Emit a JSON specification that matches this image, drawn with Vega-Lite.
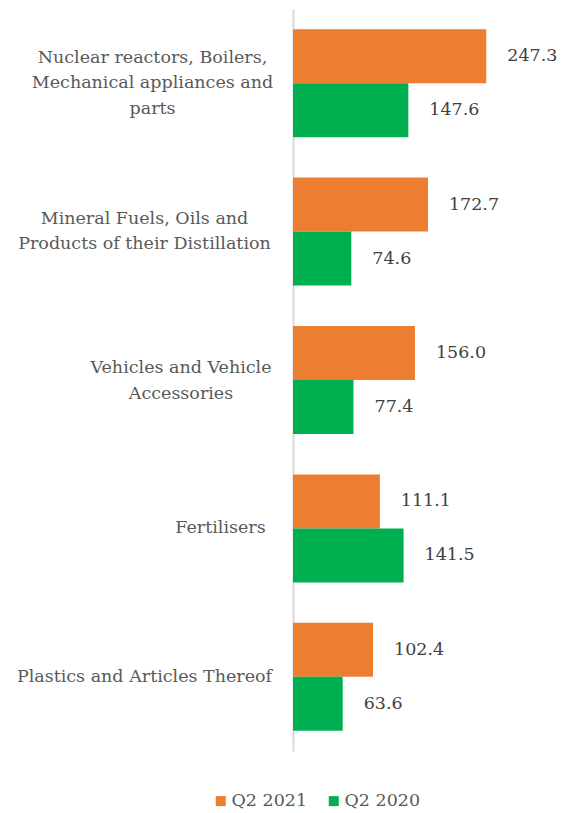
{
  "$schema": "https://vega.github.io/schema/vega-lite/v6.json",
  "autosize": "none",
  "width": 254,
  "height": 742,
  "padding": {"left": 293, "top": 9, "right": 16, "bottom": 62},
  "background": "white",
  "config": {
    "view": {"stroke": null},
    "font": "DejaVu Serif"
  },
  "data": {
    "values": [
      {"category": "Nuclear reactors, Boilers, Mechanical appliances and parts", "series": "Q2 2021", "value": 247.3},
      {"category": "Nuclear reactors, Boilers, Mechanical appliances and parts", "series": "Q2 2020", "value": 147.6},
      {"category": "Mineral Fuels, Oils and Products of their Distillation", "series": "Q2 2021", "value": 172.7},
      {"category": "Mineral Fuels, Oils and Products of their Distillation", "series": "Q2 2020", "value": 74.6},
      {"category": "Vehicles and Vehicle Accessories", "series": "Q2 2021", "value": 156.0},
      {"category": "Vehicles and Vehicle Accessories", "series": "Q2 2020", "value": 77.4},
      {"category": "Fertilisers", "series": "Q2 2021", "value": 111.1},
      {"category": "Fertilisers", "series": "Q2 2020", "value": 141.5},
      {"category": "Plastics and Articles Thereof", "series": "Q2 2021", "value": 102.4},
      {"category": "Plastics and Articles Thereof", "series": "Q2 2020", "value": 63.6}
    ]
  },
  "encoding": {
    "y": {
      "field": "category",
      "type": "nominal",
      "sort": null,
      "scale": {"paddingInner": 0.272, "paddingOuter": 0.136},
      "axis": {
        "title": null,
        "ticks": false,
        "grid": false,
        "domainColor": "#D9D9D9",
        "domainWidth": 2,
        "labelFont": "DejaVu Serif",
        "labelFontSize": 17.5,
        "labelColor": "#595959",
        "labelAlign": "center",
        "labelLineHeight": 25.5,
        "labelLimit": 400,
        "labelOffset": {
          "condition": [
            {"test": "datum.value == 'Nuclear reactors, Boilers, Mechanical appliances and parts'", "value": -25.5},
            {"test": "datum.value == 'Mineral Fuels, Oils and Products of their Distillation'", "value": -13},
            {"test": "datum.value == 'Vehicles and Vehicle Accessories'", "value": -12}
          ],
          "value": 0
        },
        "labelPadding": {
          "condition": [
            {"test": "datum.value == 'Nuclear reactors, Boilers, Mechanical appliances and parts'", "value": 141},
            {"test": "datum.value == 'Mineral Fuels, Oils and Products of their Distillation'", "value": 149},
            {"test": "datum.value == 'Vehicles and Vehicle Accessories'", "value": 112.5},
            {"test": "datum.value == 'Fertilisers'", "value": 73}
          ],
          "value": 149
        },
        "labelExpr": "datum.value == 'Nuclear reactors, Boilers, Mechanical appliances and parts' ? ['Nuclear reactors, Boilers,', 'Mechanical appliances and', 'parts'] : datum.value == 'Mineral Fuels, Oils and Products of their Distillation' ? ['Mineral Fuels, Oils and', 'Products of their Distillation'] : datum.value == 'Vehicles and Vehicle Accessories' ? ['Vehicles and Vehicle', 'Accessories'] : datum.value"
      }
    },
    "yOffset": {
      "field": "series",
      "type": "nominal",
      "sort": ["Q2 2021", "Q2 2020"],
      "scale": {"paddingInner": 0, "paddingOuter": 0}
    },
    "x": {
      "field": "value",
      "type": "quantitative",
      "scale": {"domain": [0, 325]},
      "axis": null
    }
  },
  "layer": [
    {
      "mark": {"type": "bar"},
      "encoding": {
        "color": {
          "field": "series",
          "type": "nominal",
          "sort": ["Q2 2021", "Q2 2020"],
          "scale": {"domain": ["Q2 2021", "Q2 2020"], "range": ["#ED7D31", "#00B050"]},
          "legend": {
            "title": null,
            "orient": "none",
            "direction": "horizontal",
            "legendX": -81,
            "legendY": 783,
            "symbolType": "square",
            "symbolSize": 100,
            "symbolStrokeWidth": 0,
            "symbolOpacity": 1,
            "labelFont": "DejaVu Serif",
            "labelFontSize": 17.5,
            "labelColor": "#595959",
            "labelOffset": 2,
            "columnPadding": 17
          }
        }
      }
    },
    {
      "mark": {"type": "text", "align": "left", "baseline": "middle", "dx": 21, "font": "DejaVu Serif", "fontSize": 17.5, "color": "#404040"},
      "encoding": {
        "text": {"field": "value", "type": "quantitative", "format": ".1f"}
      }
    }
  ]
}
